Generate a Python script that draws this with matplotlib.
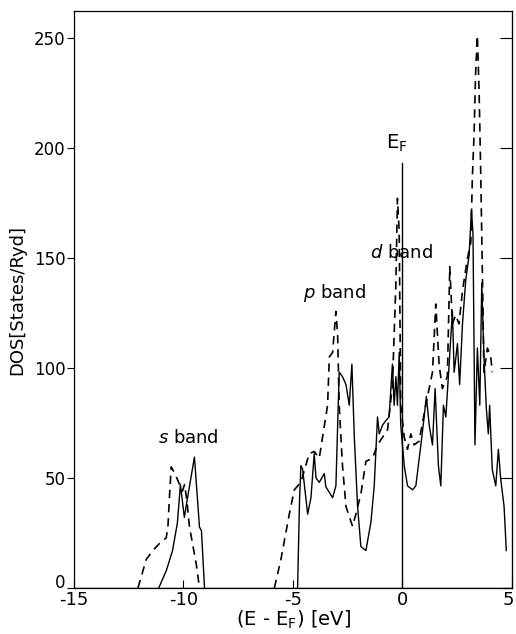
"""Density of states: solid and dashed curves with band labels."""

import matplotlib.pyplot as plt
from matplotlib.transforms import ScaledTranslation

# solid curve (energy in eV, DOS in states/Ryd)
solid_s_e = [-11.13, -10.78, -10.5, -10.28, -10.14, -9.96, -9.87, -9.5, -9.27, -9.18, -9.04]
solid_s_dos = [0, 8, 17, 29.5, 47, 32, 37.7, 59.5, 27.7, 26, 0]

solid_e = [-4.79, -4.7, -4.64, -4.56, -4.33, -4.18, -4.03, -3.95, -3.8, -3.57, -3.5, -3.19,
           -3.04, -2.89, -2.74, -2.58, -2.43, -2.31, -2.2, -2.05, -1.9, -1.67, -1.44, -1.29,
           -1.14, -1.06, -0.91, -0.76, -0.61, -0.46, -0.38, -0.3, -0.23, -0.15, -0.08, 0.08,
           0.23, 0.46, 0.61, 0.84, 0.99, 1.09, 1.22, 1.37, 1.49, 1.64, 1.75, 1.87, 1.98,
           2.13, 2.28, 2.36, 2.51, 2.61, 2.74, 2.89, 3.04, 3.15, 3.22, 3.31, 3.42, 3.53,
           3.62, 3.72, 3.83, 3.92, 3.98, 4.1, 4.26, 4.38, 4.48, 4.64, 4.74]
solid_dos = [0, 40, 55.6, 54, 33.5, 41, 61, 50, 48, 52, 46, 41,
             46.4, 98, 96, 92.4, 83, 101.7, 68.5, 37, 18.8, 17, 30, 46.4,
             77.7, 70, 74, 76, 77.7, 101.7, 83, 96, 83, 107, 74, 55.6,
             46.4, 44.6, 46.4, 65, 77.7, 87, 74, 65, 90.6, 55.6, 46.4, 83, 77.7,
             101.7, 125.6, 98, 111, 92.4, 120, 140, 151, 171.6, 160.7, 65, 109, 83,
             138.5, 105, 81.4, 70, 83, 53.8, 46.4, 63, 50, 37, 17]

# dashed curve
dash_s_e = [-12.08, -11.7, -11.4, -11.02, -10.79, -10.71, -10.64, -10.56, -10.35, -10.05,
            -9.95, -9.85, -9.73, -9.42, -9.27]
dash_s_dos = [0, 13, 17, 21, 22.7, 27.9, 41.5, 55, 51, 44, 47, 40, 28, 11, 0]

dash_e = [-5.85, -5.55, -5.17, -4.94, -4.64, -4.26, -4.03, -3.8, -3.42, -3.34, -3.19, -3.04,
          -2.96, -2.89, -2.74, -2.58, -2.28, -2.13, -1.9, -1.67, -1.37, -1.14, -0.91, -0.68,
          -0.46, -0.3, -0.23, -0.15, -0.08, 0.08, 0.23, 0.38, 0.53, 0.76, 1.06, 1.37, 1.52,
          1.67, 1.82, 2.05, 2.16, 2.28, 2.43, 2.58, 2.74, 2.96, 3.12, 3.19, 3.27, 3.34, 3.42,
          3.5, 3.57, 3.65, 3.72, 3.88, 4.03, 4.1]
dash_dos = [0, 13, 33.5, 44.6, 48, 61, 62, 59, 83, 105, 107, 125.6,
            114.5, 83, 55.6, 37, 28, 33.5, 42.7, 57.5, 59, 65, 68.5, 72,
            92, 138.5, 177, 162, 83, 68.5, 63, 70, 65, 66.7, 83, 98, 129,
            101.7, 90.6, 96, 146, 120, 124, 120, 135, 149.5, 157, 186, 206.6, 234, 251,
            225, 190, 142, 98, 109, 105, 98]

# Fermi level marker
fermi_top = 193

fig = plt.figure(figsize=(5.16, 6.34), dpi=100)
ax = fig.add_axes([0.1434, 0.0726, 0.8488, 0.9096])

ax.plot([-15, 5], [0, 0], color="black", lw=1.0)
ax.plot(solid_s_e, solid_s_dos, color="black", lw=1.0)
ax.plot(solid_e, solid_dos, color="black", lw=1.0)
ax.plot(dash_s_e, dash_s_dos, color="black", lw=1.2, ls=(0, (5, 3.5)))
ax.plot(dash_e, dash_dos, color="black", lw=1.2, ls=(0, (5, 3.5)))
ax.plot([0, 0], [0, fermi_top], color="black", lw=1.0)

ax.text(-9.8, 64, r"$s$ band", fontsize=13, ha="center", va="bottom")
ax.text(-3.1, 129, r"$p$ band", fontsize=13, ha="center", va="bottom")
ax.text(-0.05, 148, r"$d$ band", fontsize=13, ha="center", va="bottom")
ax.text(-0.25, 197, r"E$_\mathrm{F}$", fontsize=14, ha="center", va="bottom")

ax.set_xlim(-15, 5)
ax.set_ylim(0, 262)
ax.set_xticks([-15, -10, -5, 0, 5])
ax.set_xticklabels(["-15", "-10", "-5", "0", "5"])
ax.set_yticks([0, 50, 100, 150, 200, 250])
ax.tick_params(axis="x", direction="in", length=6, width=0.8, labelsize=13, pad=2)
ax.tick_params(axis="y", direction="out", length=5, width=0.8, labelsize=12, pad=1)
ax.yaxis.get_major_ticks()[0].label1.set_verticalalignment("baseline")
last = ax.xaxis.get_major_ticks()[-1].label1
last.set_transform(last.get_transform() + ScaledTranslation(-4 / 100, 0, fig.dpi_scale_trans))

right = ax.secondary_yaxis("right")
right.set_yticks([0, 50, 100, 150, 200, 250])
right.tick_params(direction="in", length=9, width=0.8, labelright=False)

ax.set_xlabel(r"(E - E$_\mathrm{F}$) [eV]", fontsize=14, labelpad=0)
ax.set_ylabel("DOS[States/Ryd]", fontsize=13)
ax.yaxis.set_label_coords(-0.11, 0.5)
for spine in ax.spines.values():
    spine.set_linewidth(0.9)

fig.savefig("out.png", dpi=100)
